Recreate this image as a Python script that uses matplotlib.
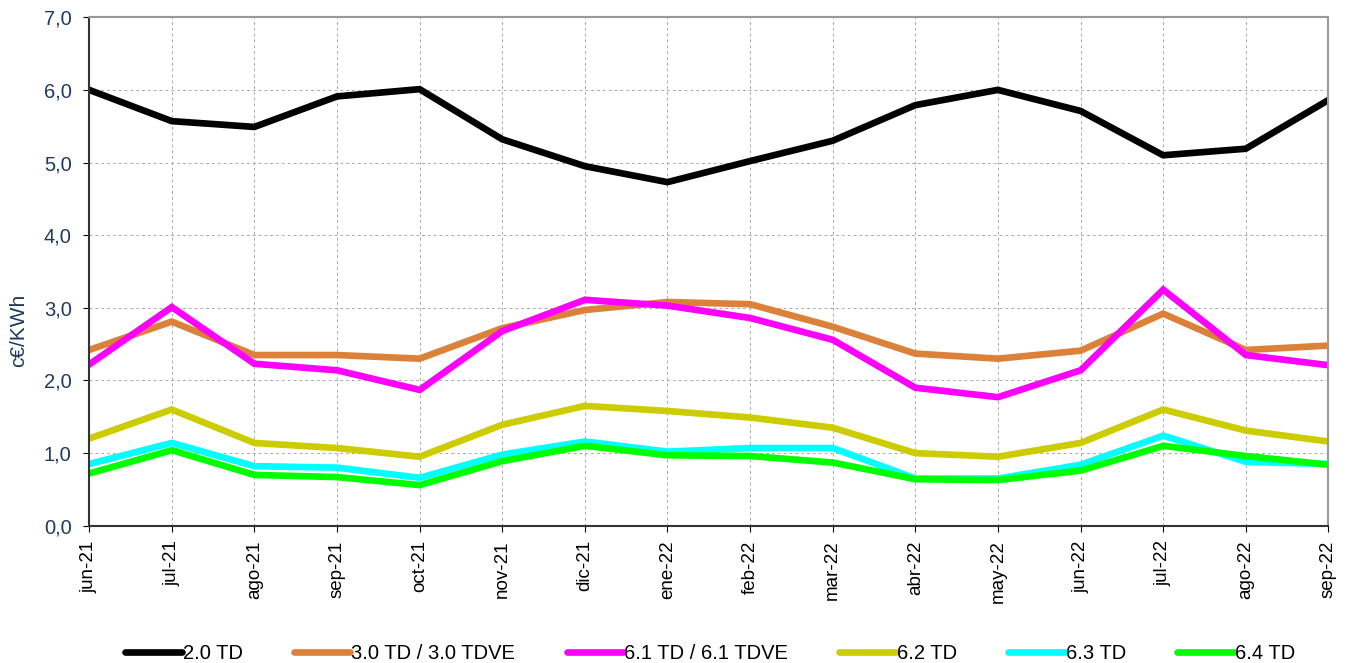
import matplotlib
matplotlib.use('Agg')
import matplotlib.pyplot as plt
from matplotlib.ticker import FuncFormatter

# months and series
months = ['jun-21', 'jul-21', 'ago-21', 'sep-21', 'oct-21', 'nov-21', 'dic-21', 'ene-22',
          'feb-22', 'mar-22', 'abr-22', 'may-22', 'jun-22', 'jul-22', 'ago-22', 'sep-22']

td_20 = [6.00, 5.57, 5.49, 5.91, 6.01, 5.32, 4.95, 4.73, 5.02, 5.30, 5.79, 6.00, 5.71, 5.10, 5.19, 5.86]
td_30 = [2.42, 2.81, 2.35, 2.35, 2.30, 2.72, 2.97, 3.08, 3.05, 2.74, 2.37, 2.30, 2.41, 2.92, 2.42, 2.48]
td_61 = [2.22, 3.01, 2.23, 2.14, 1.87, 2.68, 3.11, 3.03, 2.86, 2.56, 1.90, 1.77, 2.14, 3.25, 2.35, 2.21]
td_62 = [1.20, 1.60, 1.14, 1.07, 0.95, 1.39, 1.65, 1.58, 1.49, 1.35, 1.00, 0.95, 1.14, 1.60, 1.31, 1.16]
td_63 = [0.85, 1.14, 0.82, 0.80, 0.66, 0.98, 1.16, 1.02, 1.07, 1.07, 0.65, 0.65, 0.84, 1.24, 0.88, 0.85]
td_64 = [0.72, 1.04, 0.70, 0.67, 0.56, 0.89, 1.10, 0.97, 0.96, 0.87, 0.64, 0.63, 0.76, 1.10, 0.96, 0.84]

labels = ['2.0 TD', '3.0 TD / 3.0 TDVE', '6.1 TD / 6.1 TDVE', '6.2 TD', '6.3 TD', '6.4 TD']
colors = ['#000000', '#DC8139', '#FF00FF', '#CCCC00', '#00FFFF', '#00FF00']
series = [td_20, td_30, td_61, td_62, td_63, td_64]

plt.rcParams['font.family'] = ['Liberation Sans', 'DejaVu Sans']
tick_blue = '#1F3A5F'

fig = plt.figure(figsize=(13.5, 6.63), dpi=100)
ax = fig.add_axes([0.066, 0.207, 0.918, 0.767])

x = list(range(len(months)))
for vals, lab, col in zip(series, labels, colors):
    ax.plot(x, vals, color=col, linewidth=4.8, label=lab, solid_joinstyle='miter')

ax.set_xlim(0, len(months) - 1)
ax.set_ylim(0, 7)
ax.set_yticks([0, 1, 2, 3, 4, 5, 6, 7])
ax.yaxis.set_major_formatter(FuncFormatter(lambda v, p: ('%.1f' % v).replace('.', ',')))
ax.set_xticks(x)
ax.set_xticklabels(months, rotation=90, fontsize=13.5)
ax.tick_params(axis='y', labelsize=14.5, labelcolor=tick_blue, length=4.5, pad=8, direction='out')
ax.tick_params(axis='x', length=4.5, pad=6, direction='out', colors='black')
ax.set_ylabel('c€/KWh', fontsize=15, color=tick_blue)
ax.yaxis.set_label_coords(-0.049, 0.385)

ax.grid(True, color='#aaaaaa', linestyle=(0, (3, 3)), linewidth=0.7)
ax.set_axisbelow(True)
for side in ['left', 'bottom']:
    ax.spines[side].set_color('#333333')
    ax.spines[side].set_linewidth(1.5)
for side in ['top', 'right']:
    ax.spines[side].set_color('#999999')
    ax.spines[side].set_linewidth(1.5)

leg = fig.legend(loc='center', bbox_to_anchor=(0.526, 0.014), ncol=6, frameon=False,
                 handlelength=2.8, handletextpad=0.05, columnspacing=2.55,
                 prop={'size': 14.5})
for h in leg.get_lines():
    h.set_solid_capstyle('round')

fig.savefig('out.png', dpi=100)
